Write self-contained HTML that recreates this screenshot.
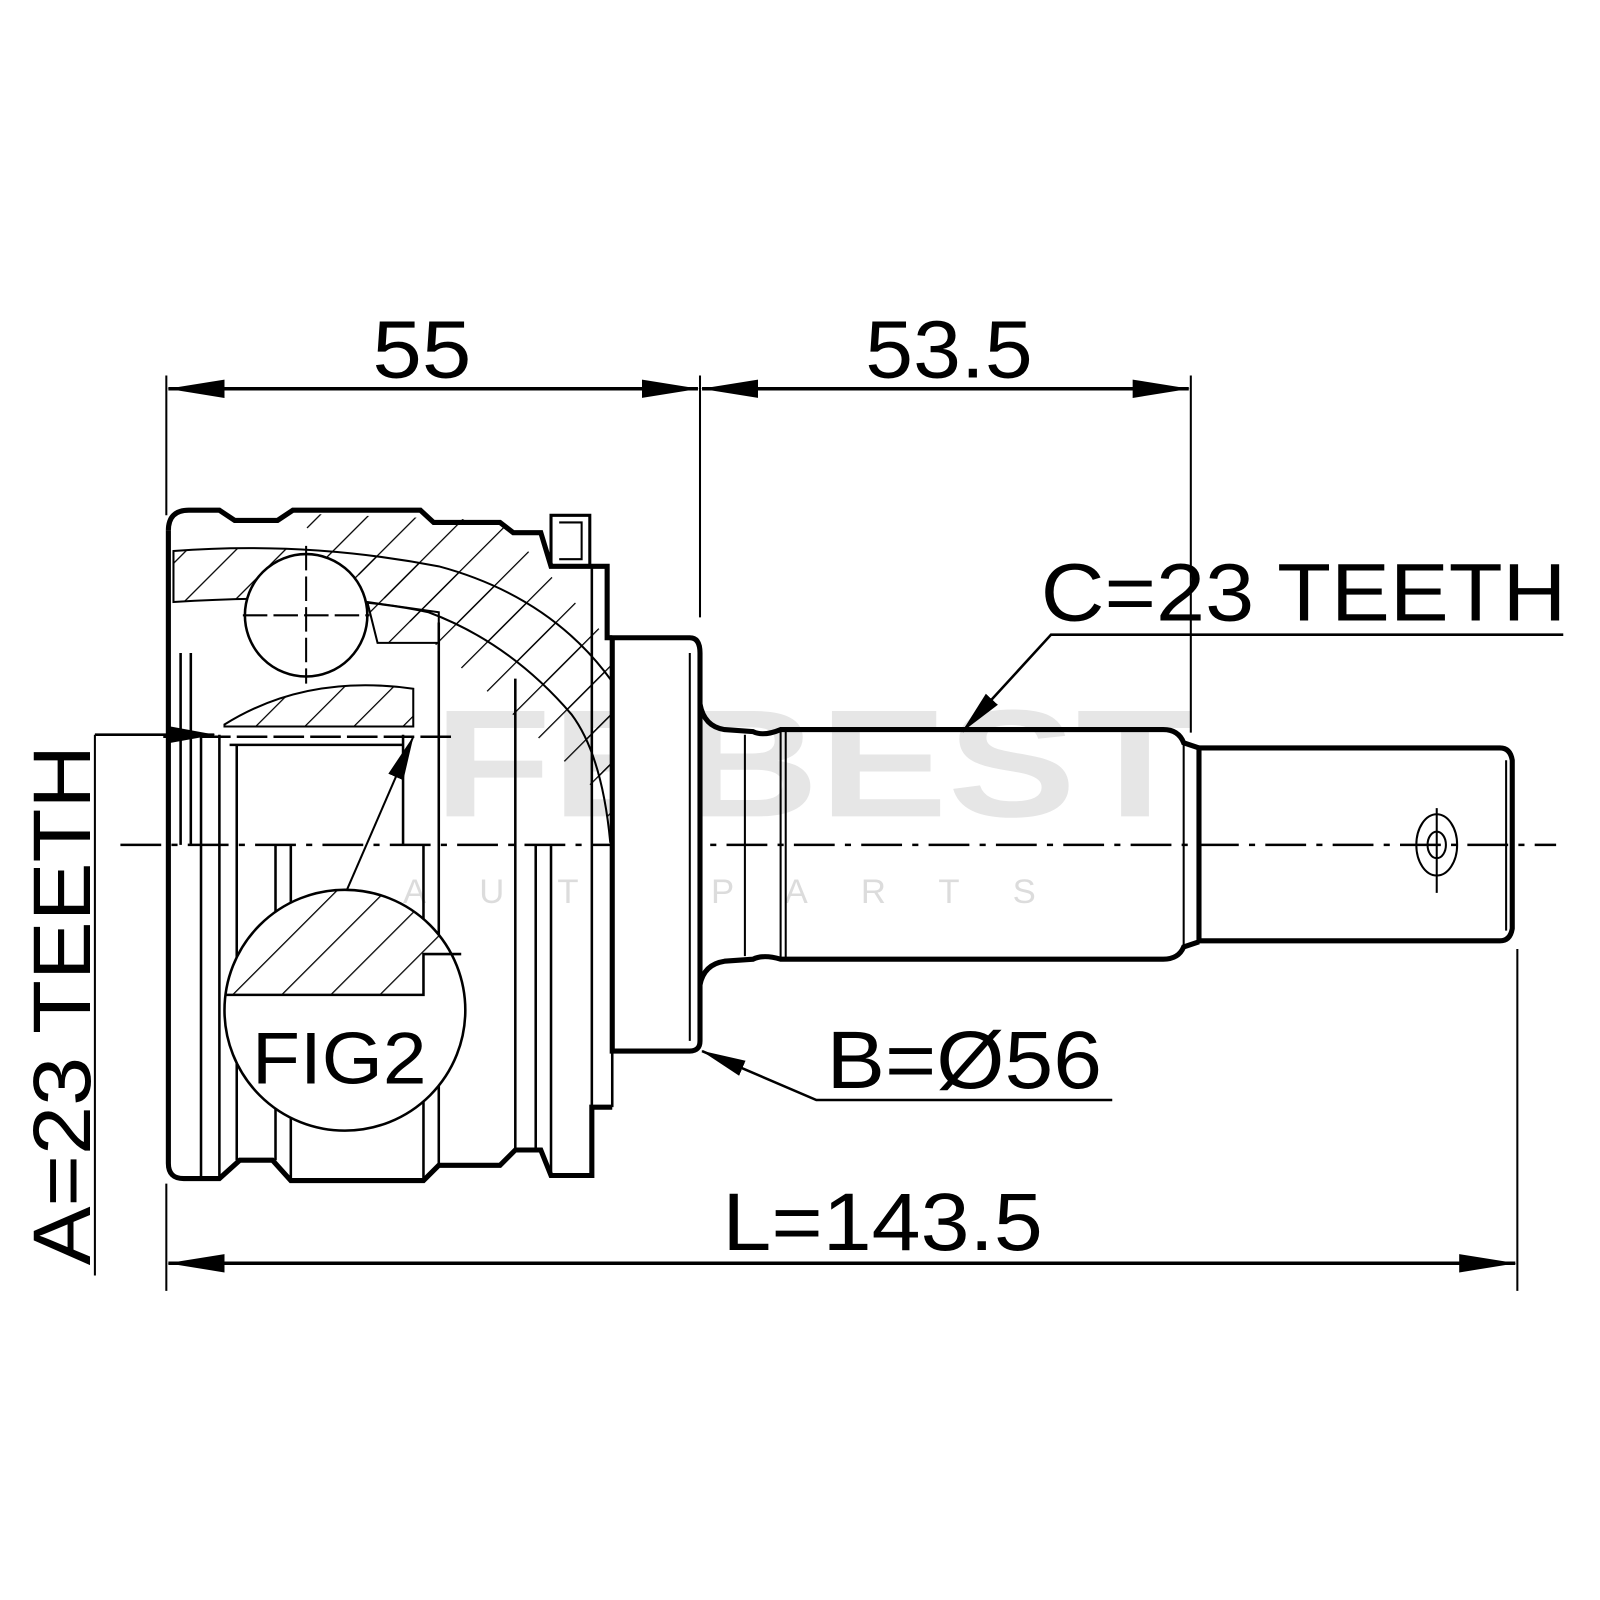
<!DOCTYPE html>
<html><head><style>html,body{margin:0;padding:0;background:#fff}svg{display:block}</style></head>
<body>
<svg width="1600" height="1600" viewBox="0 0 1568 1568" xmlns="http://www.w3.org/2000/svg" font-family="Liberation Sans, sans-serif">
<defs>
<pattern id="h" width="34" height="34" patternUnits="userSpaceOnUse" patternTransform="rotate(45)">
<line x1="0" y1="0" x2="0" y2="34" stroke="#000" stroke-width="2.5"/></pattern>
<marker id="a" markerWidth="56" markerHeight="20" refX="55" refY="10" orient="auto-start-reverse" markerUnits="userSpaceOnUse" viewBox="0 0 56 20"><path d="M0,1 L56,10 L0,19z"/></marker>
<marker id="b" markerWidth="44" markerHeight="18" refX="43" refY="9" orient="auto" markerUnits="userSpaceOnUse" viewBox="0 0 44 18"><path d="M0,1 L44,9 L0,17z"/></marker>
</defs>
<rect width="1568" height="1568" fill="#fff"/>
<text x="425" y="800" font-size="150" font-weight="bold" fill="#e6e6e6" textLength="745" lengthAdjust="spacingAndGlyphs">FEBEST</text>
<text x="395" y="885" font-size="34" fill="#dcdcdc" letter-spacing="52">AUTOPARTS</text>

<g stroke="#000" fill="none">
<line x1="163" y1="368" x2="163" y2="505" stroke-width="2"/>
<line x1="686" y1="368" x2="686" y2="605" stroke-width="2"/>
<line x1="1167" y1="368" x2="1167" y2="718" stroke-width="2"/>
<line x1="165" y1="381" x2="684" y2="381" stroke-width="3.5" marker-start="url(#a)" marker-end="url(#a)"/>
<line x1="688" y1="381" x2="1165" y2="381" stroke-width="3.5" marker-start="url(#a)" marker-end="url(#a)"/>
<line x1="163" y1="1160" x2="163" y2="1265" stroke-width="2"/>
<line x1="1487" y1="930" x2="1487" y2="1265" stroke-width="2"/>
<line x1="165" y1="1238" x2="1485" y2="1238" stroke-width="3.5" marker-start="url(#a)" marker-end="url(#a)"/>
<polyline points="1532,622 1030,622 943,717" stroke-width="2.5" marker-end="url(#b)"/>
<polyline points="1090,1078 800,1078 688,1030" stroke-width="2.5" marker-end="url(#b)"/>
<line x1="93" y1="720" x2="93" y2="1250" stroke-width="2"/>
<polyline points="93,720 210,720" stroke-width="2.5" marker-end="url(#b)"/>
<line x1="340" y1="872" x2="405" y2="722" stroke-width="2" marker-end="url(#b)"/>
<line x1="118" y1="828" x2="1525" y2="828" stroke-width="2.5" stroke-dasharray="40,10,6,10"/>

<path d="M170,540 Q300,530 430,555 Q560,590 620,700 Q650,760 650,825 L598,825 Q590,740 560,700 Q500,630 420,600 Q330,580 170,590 Z" fill="url(#h)" stroke-width="2"/>
<path d="M285,503 L490,510 L595,625 L660,680 L660,825 L640,825 Z" fill="url(#h)" stroke="none"/>
<path d="M220,710 Q300,660 405,675 L405,712 L220,712 Z" fill="url(#h)" stroke-width="2"/>
<path d="M360,590 L430,600 L430,630 L370,630 Z" fill="url(#h)" stroke-width="2"/>
<path d="M165,520 Q165,500 185,500 L215,500 L230,510 L272,510 L287,500 L412,500 L425,512 L490,512 L503,522 L530,522 L540,555 L595,555 L595,625 L600,625" stroke-width="5"/>
<path d="M165,520 L165,1140 Q165,1155 180,1155 L215,1155 L235,1137 L267,1137 L285,1157 L415,1157 L430,1142 L490,1142 L505,1127 L530,1127 L540,1152 L580,1152 L580,1085 L600,1085" stroke-width="5"/>
<path d="M540,555 L540,505 L578,505 L578,555" stroke-width="3"/>
<path d="M548,512 L570,512 L570,548 L548,548" stroke-width="2"/>
<path d="M600,625 L676,625 Q686,625 686,640 L686,1020 Q686,1030 676,1030 L600,1030 Z" stroke-width="5" fill="#fff"/>
<line x1="676" y1="640" x2="676" y2="1020" stroke-width="2"/>
<path d="M686,690 Q690,712 710,715 L738,717 Q748,722 765,715 L1140,715 Q1155,715 1160,728 L1175,733" stroke-width="5"/>
<path d="M686,965 Q690,945 710,942 L738,940 Q748,935 765,940 L1140,940 Q1155,940 1160,928 L1175,923" stroke-width="5"/>
<line x1="765" y1="715" x2="765" y2="940" stroke-width="2"/>
<line x1="770" y1="715" x2="770" y2="940" stroke-width="2"/>
<line x1="730" y1="720" x2="730" y2="937" stroke-width="2"/>
<line x1="1160" y1="728" x2="1160" y2="928" stroke-width="2"/>
<path d="M1175,733 L1470,733 Q1480,733 1482,745 L1482,910 Q1480,922 1470,922 L1175,922 Z" stroke-width="5"/>
<line x1="1476" y1="745" x2="1476" y2="912" stroke-width="2"/>
<ellipse cx="1408" cy="828" rx="20" ry="30" stroke-width="2"/>
<ellipse cx="1408" cy="828" rx="9" ry="13" stroke-width="2"/>
<line x1="1408" y1="792" x2="1408" y2="875" stroke-width="2"/>
<g stroke-width="2.5">
<line x1="177" y1="640" x2="177" y2="828"/><line x1="187" y1="640" x2="187" y2="828"/>
<line x1="197" y1="720" x2="197" y2="1155"/>
<line x1="215" y1="720" x2="215" y2="1155"/>
<line x1="232" y1="730" x2="232" y2="1137"/>
<line x1="270" y1="828" x2="270" y2="1137"/>
<line x1="285" y1="828" x2="285" y2="1157"/>
<line x1="395" y1="720" x2="395" y2="828"/>
<line x1="415" y1="828" x2="415" y2="1157"/>
<line x1="430" y1="610" x2="430" y2="1142"/>
<line x1="505" y1="665" x2="505" y2="1127"/>
<line x1="525" y1="828" x2="525" y2="1127"/>
<line x1="540" y1="828" x2="540" y2="1152"/>
<line x1="580" y1="555" x2="580" y2="1085"/>
<line x1="600" y1="625" x2="600" y2="1085"/>
<line x1="225" y1="730" x2="395" y2="730"/>
<line x1="160" y1="722" x2="445" y2="722" stroke-dasharray="30,6"/>
</g>
<circle cx="300" cy="603" r="60" stroke-width="2.5" fill="#fff"/>
<line x1="300" y1="535" x2="300" y2="670" stroke-width="2" stroke-dasharray="24,6"/>
<line x1="238" y1="603" x2="362" y2="603" stroke-width="2" stroke-dasharray="24,6"/>
<circle cx="338" cy="990" r="118" stroke-width="2.5" fill="#fff"/>
<clipPath id="c"><circle cx="338" cy="990" r="118"/></clipPath>
<path d="M215,975 L415,975 L415,935 L460,935 L460,860 L215,860 Z" fill="url(#h)" clip-path="url(#c)" stroke="none"/>
<polyline points="222,975 415,975 415,935 452,935" stroke-width="2.5"/>
</g>
<g fill="#000" font-size="80">
<text x="365" y="370" textLength="97" lengthAdjust="spacingAndGlyphs">55</text>
<text x="848" y="370" textLength="164" lengthAdjust="spacingAndGlyphs">53.5</text>
<text x="1020" y="608" textLength="515" lengthAdjust="spacingAndGlyphs">C=23 TEETH</text>
<text x="708" y="1225" textLength="314" lengthAdjust="spacingAndGlyphs">L=143.5</text>
<text x="810" y="1066" textLength="270" lengthAdjust="spacingAndGlyphs">B=Ø56</text>
<text x="247" y="1062" font-size="72" textLength="171" lengthAdjust="spacingAndGlyphs">FIG2</text>
<text transform="translate(88,1240) rotate(-90)" textLength="510" lengthAdjust="spacingAndGlyphs">A=23 TEETH</text>
</g>
</svg>
</body></html>
